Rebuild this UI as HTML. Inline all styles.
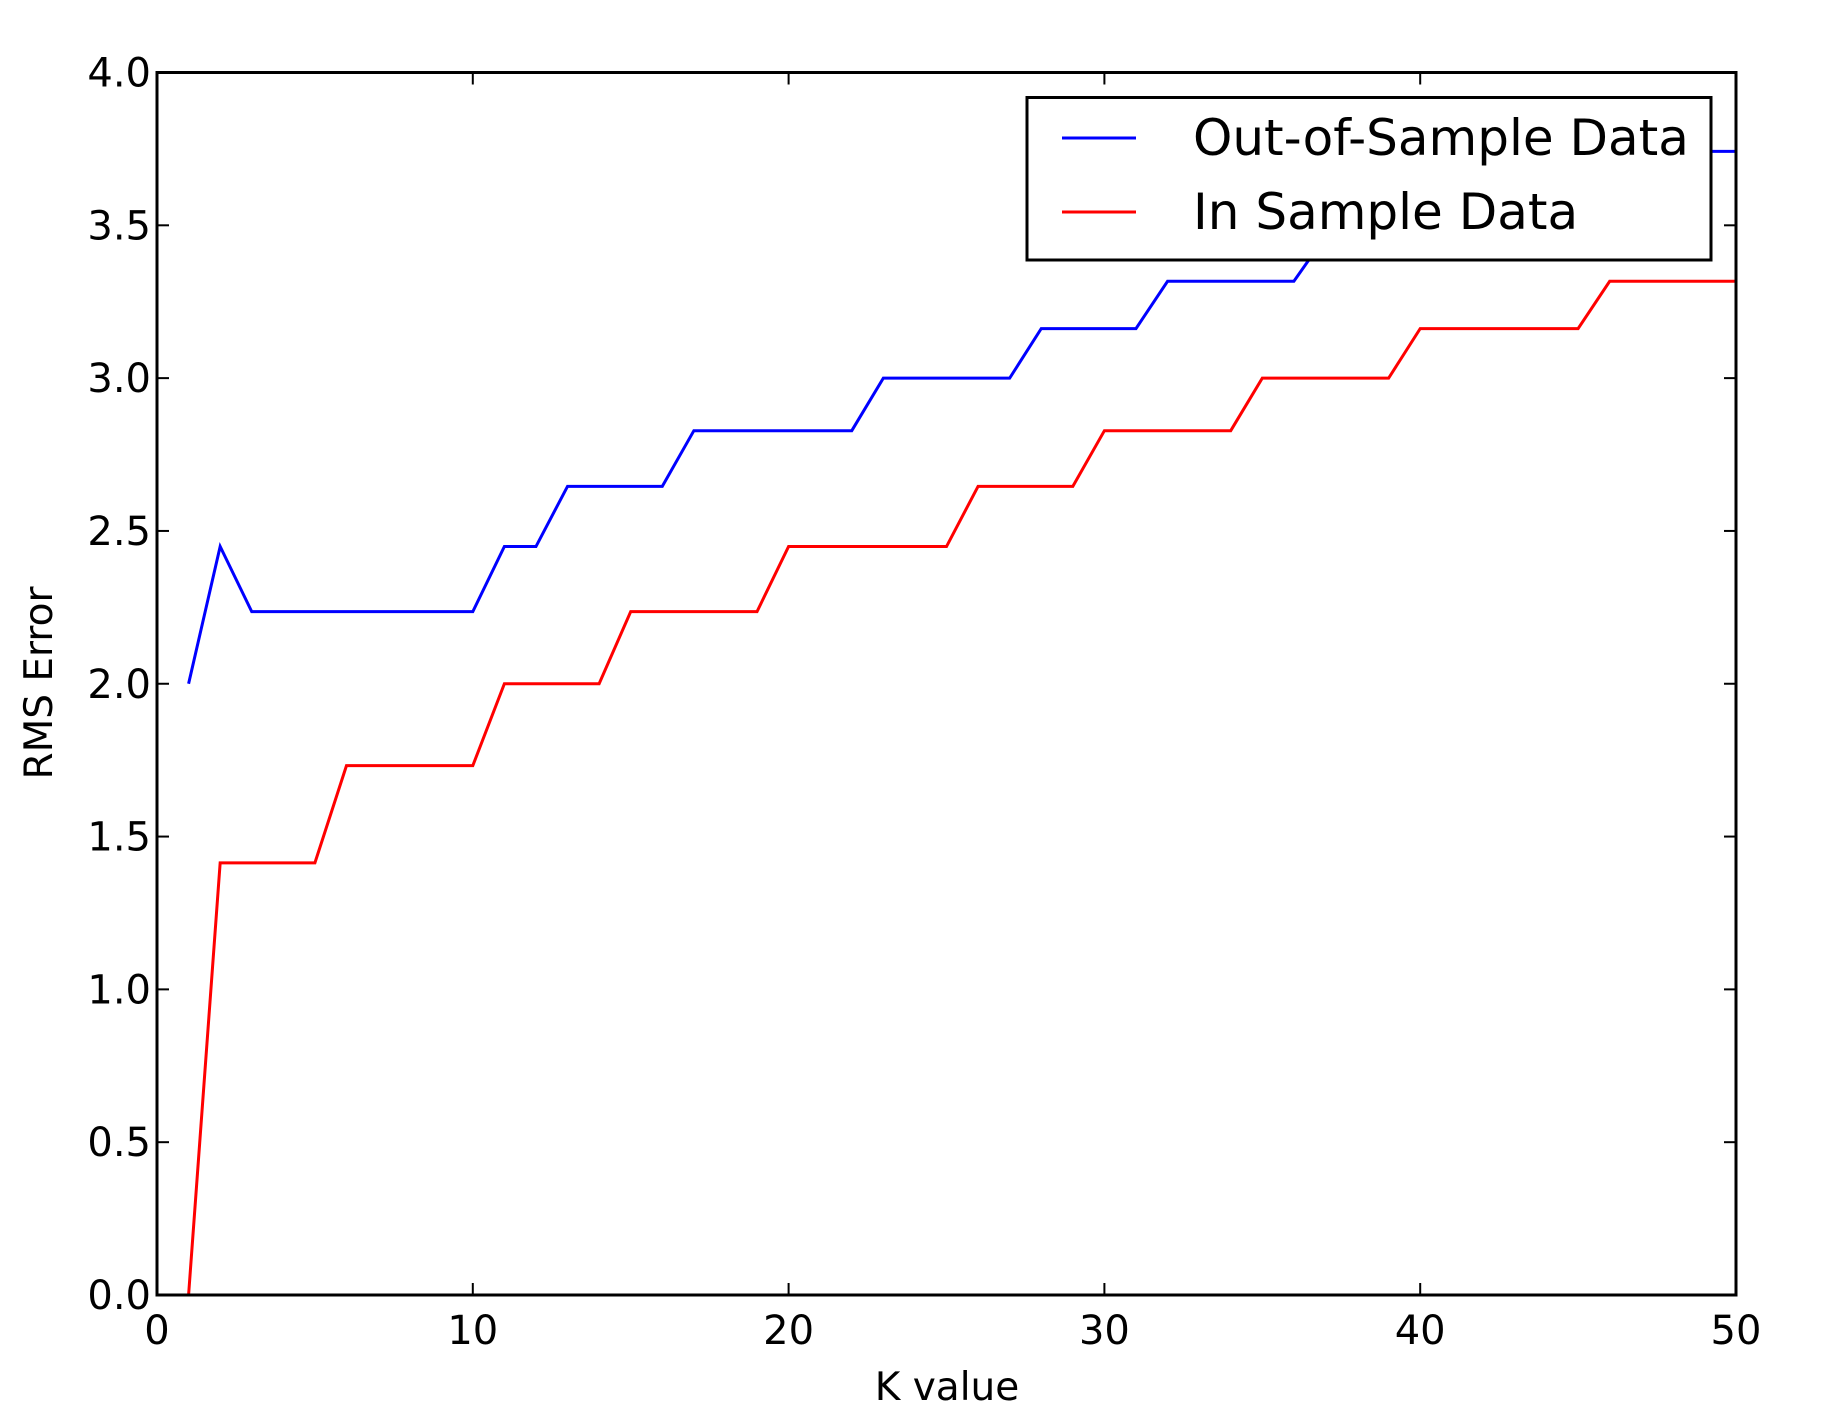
<!DOCTYPE html>
<html><head><meta charset="utf-8"><style>
html,body{margin:0;padding:0;background:#fff;}
svg{display:block;font-family:"DejaVu Sans","Liberation Sans",sans-serif;}
</style></head><body>
<svg id="chart" width="1840" height="1420" viewBox="0 0 1840 1420">
<g id="ticks"></g>
<g id="lines"></g>
<rect x="157" y="72.5" width="1579" height="1222.5" fill="none" stroke="#000" stroke-width="3"/>
<g>
<rect x="1027" y="97.5" width="684" height="162.5" fill="#fff" stroke="#000" stroke-width="3"/>
<line x1="1062" y1="138" x2="1136" y2="138" stroke="#0000ff" stroke-width="3"/>
<text x="1193" y="155" font-size="50">Out-of-Sample Data</text>
<line x1="1062" y1="212" x2="1136" y2="212" stroke="#ff0000" stroke-width="3"/>
<text x="1193" y="229" font-size="50">In Sample Data</text>
</g>
<text x="947" y="1400" font-size="39" text-anchor="middle">K value</text>
<text x="0" y="0" font-size="39" text-anchor="middle" transform="translate(52,683) rotate(-90)">RMS Error</text>
</svg>
<script>
const kValues = [];
for (let k = 1; k <= 50; k++) kValues.push(k);
const outSample = [2.0,2.449,2.236,2.236,2.236,2.236,2.236,2.236,2.236,2.236,2.449,2.449,2.646,2.646,2.646,2.646,2.828,2.828,2.828,2.828,2.828,2.828,3.0,3.0,3.0,3.0,3.0,3.162,3.162,3.162,3.162,3.317,3.317,3.317,3.317,3.317,3.464,3.464,3.464,3.464,3.606,3.606,3.606,3.606,3.606,3.742,3.742,3.742,3.742,3.742];
const inSample = [0.0,1.414,1.414,1.414,1.414,1.732,1.732,1.732,1.732,1.732,2.0,2.0,2.0,2.0,2.236,2.236,2.236,2.236,2.236,2.449,2.449,2.449,2.449,2.449,2.449,2.646,2.646,2.646,2.646,2.828,2.828,2.828,2.828,2.828,3.0,3.0,3.0,3.0,3.0,3.162,3.162,3.162,3.162,3.162,3.162,3.317,3.317,3.317,3.317,3.317];
const xTicks = [0,10,20,30,40,50];
const yTicks = [0,0.5,1,1.5,2,2.5,3,3.5,4];
const yTickLabels = ["0.0","0.5","1.0","1.5","2.0","2.5","3.0","3.5","4.0"];

const L=157,R=1736,T=72.5,B=1295;
const xS = v => L + (v-0)/(50-0)*(R-L);
const yS = v => B - (v-0)/(4-0)*(B-T);
const NS="http://www.w3.org/2000/svg";
const tg=document.getElementById('ticks'), lg=document.getElementById('lines');

xTicks.forEach(v=>{
  const x=xS(v);
  [[B,B-12],[T,T+12]].forEach(p=>{
    const l=document.createElementNS(NS,'line');
    l.setAttribute('x1',x);l.setAttribute('x2',x);l.setAttribute('y1',p[0]);l.setAttribute('y2',p[1]);
    l.setAttribute('stroke','#000');l.setAttribute('stroke-width','2');
    
    
    tg.appendChild(l);
  });
  const t=document.createElementNS(NS,'text');
  t.setAttribute('x',x);t.setAttribute('y',B+49);t.setAttribute('font-size','40');t.setAttribute('text-anchor','middle');
  t.textContent=String(v);
  
  
  tg.appendChild(t);
});
yTicks.forEach((v,i)=>{
  const y=yS(v);
  [[L,L+12],[R,R-12]].forEach(p=>{
    const l=document.createElementNS(NS,'line');
    l.setAttribute('y1',y);l.setAttribute('y2',y);l.setAttribute('x1',p[0]);l.setAttribute('x2',p[1]);
    l.setAttribute('stroke','#000');l.setAttribute('stroke-width','2');
    
    
    tg.appendChild(l);
  });
  const t=document.createElementNS(NS,'text');
  t.setAttribute('x',L-6);t.setAttribute('y',y+14);t.setAttribute('font-size','40');t.setAttribute('text-anchor','end');
  t.textContent=yTickLabels[i];
  
  
  tg.appendChild(t);
});
function drawLine(vals,color,name){
  const p=document.createElementNS(NS,'polyline');
  p.setAttribute('points',vals.map((v,i)=>xS(kValues[i])+','+yS(v)).join(' '));
  p.setAttribute('fill','none');p.setAttribute('stroke',color);p.setAttribute('stroke-width','3');
  
  
  lg.appendChild(p);
}
drawLine(outSample,'#0000ff','out-of-sample-line');
drawLine(inSample,'#ff0000','in-sample-line');
</script>
</body></html>
